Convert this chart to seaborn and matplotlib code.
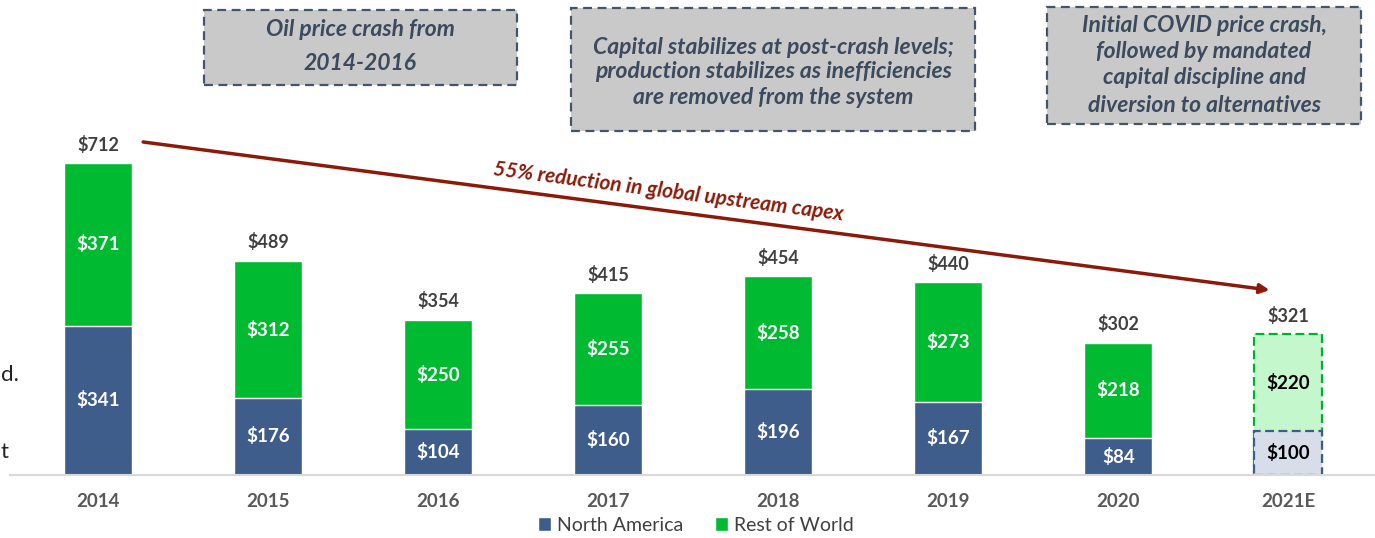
import matplotlib
matplotlib.use("Agg")
import matplotlib.pyplot as plt
from matplotlib.patches import Rectangle, Patch
import seaborn as sns
import pandas as pd

# data ($bn)
years = ["2014", "2015", "2016", "2017", "2018", "2019", "2020", "2021E"]
north_america = [341, 176, 104, 160, 196, 167, 84, 100]
rest_of_world = [371, 312, 250, 255, 258, 273, 218, 220]
totals = [712, 489, 354, 415, 454, 440, 302, 321]

df = pd.DataFrame({"year": years, "na": north_america, "row": rest_of_world, "total": totals})

sns.set_theme(style="white")
plt.rcParams["font.family"] = ["Lato", "DejaVu Sans"]

BLUE = "#3f5d8a"
GREEN = "#00bb31"
DARK = "#404040"
RED = "#8b1a0a"

fig = plt.figure(figsize=(13.75, 5.38), dpi=100)
ax = fig.add_axes([10 / 1375, 63 / 538, 1 - 10 / 1375, 475 / 538])

# stacked look: total bar in green, north america bar over it
sns.barplot(data=df, x="year", y="total", color=GREEN, width=0.4, saturation=1, ax=ax)
sns.barplot(data=df, x="year", y="na", color=BLUE, width=0.4, saturation=1, ax=ax)

# estimate year drawn light with dashed edges
p_tot = ax.patches[len(years) - 1]
p_tot.set_facecolor("#c4f7cc")
p_tot.set_edgecolor("#00b030")
p_tot.set_linestyle((0, (4, 2)))
p_tot.set_linewidth(1.6)
p_na = ax.patches[2 * len(years) - 1]
p_na.set_facecolor("#d7dde9")
p_na.set_edgecolor(BLUE)
p_na.set_linestyle((0, (4, 2)))
p_na.set_linewidth(1.6)

ax.set_xlim(-0.518, 7.51)
ax.set_ylim(0, 1084)

# value labels
for i, yr in enumerate(years):
    est = yr.endswith("E")
    inner = "black" if est else "white"
    ax.text(i, north_america[i] / 2, f"${north_america[i]}", ha="center", va="center",
            color=inner, fontsize=13.5, fontweight="bold")
    ax.text(i, north_america[i] + rest_of_world[i] / 2, f"${rest_of_world[i]}", ha="center",
            va="center", color=inner, fontsize=13.5, fontweight="bold")
    ax.text(i, totals[i] + 42, f"${totals[i]}", ha="center", va="center",
            color=DARK, fontsize=13, fontweight="bold")

ax.set_xlabel("")
ax.set_ylabel("")
ax.set_yticks([])
for s in ["top", "left", "right"]:
    ax.spines[s].set_visible(False)
ax.spines["bottom"].set_color("#d9d9d9")
ax.spines["bottom"].set_linewidth(1.5)
ax.tick_params(axis="x", length=0, pad=13, labelsize=13.5, labelcolor="#595959")
for t in ax.get_xticklabels():
    t.set_fontweight("bold")

# trend arrow
ax.annotate("", xy=(6.89, 422), xytext=(0.265, 760),
            arrowprops=dict(arrowstyle="-|>", color=RED, lw=2.5, mutation_scale=14,
                            shrinkA=0, shrinkB=0))
fig.text(668 / 1375, 1 - 192 / 538, "55% reduction in global upstream capex", rotation=-7.4,
         ha="center", va="center", color=RED, fontsize=15, fontweight="bold", style="italic",
         rotation_mode="anchor")

# annotation boxes (pixel coords of the figure)
boxes = [
    ((204, 10, 517, 85), ["Oil price crash from", "2014-2016"], [30, 64]),
    ((571, 8, 975, 131), ["Capital stabilizes at post-crash levels;",
                          "production stabilizes as inefficiencies",
                          "are removed from the system"], [47, 72, 97]),
    ((1047, 7, 1361, 124), ["Initial COVID price crash,", "followed by mandated",
                            "capital discipline and", "diversion to alternatives"], [25, 51, 78, 105]),
]
for (x0, y0, x1, y1), lines, ys in boxes:
    rect = Rectangle((x0 / 1375, 1 - y1 / 538), (x1 - x0) / 1375, (y1 - y0) / 538,
                     transform=fig.transFigure, facecolor="#c9c9c9", edgecolor="#44546a",
                     linestyle=(0, (4, 2.5)), linewidth=1.6)
    fig.patches.append(rect)
    for line, yy in zip(lines, ys):
        fig.text((x0 + x1) / 2 / 1375, 1 - yy / 538, line, ha="center", va="center",
                 color="#3b4a5c", fontsize=16.5, fontweight="bold", style="italic")

# text fragments at the left edge
fig.text(0.0005, 1 - 375 / 538, "d.", ha="left", va="center", fontsize=16, color="#222222")
fig.text(0.0005, 1 - 452 / 538, "t", ha="left", va="center", fontsize=16, color="#222222")

handles = [Patch(facecolor=BLUE, label="North America"), Patch(facecolor=GREEN, label="Rest of World")]
fig.legend(handles=handles, loc="lower center", bbox_to_anchor=(0.506, -0.025), ncol=2,
           frameon=False, fontsize=14, handlelength=0.7, handleheight=0.7, handletextpad=0.3,
           columnspacing=1.6, labelcolor=DARK)

fig.savefig("out.png", dpi=100)
